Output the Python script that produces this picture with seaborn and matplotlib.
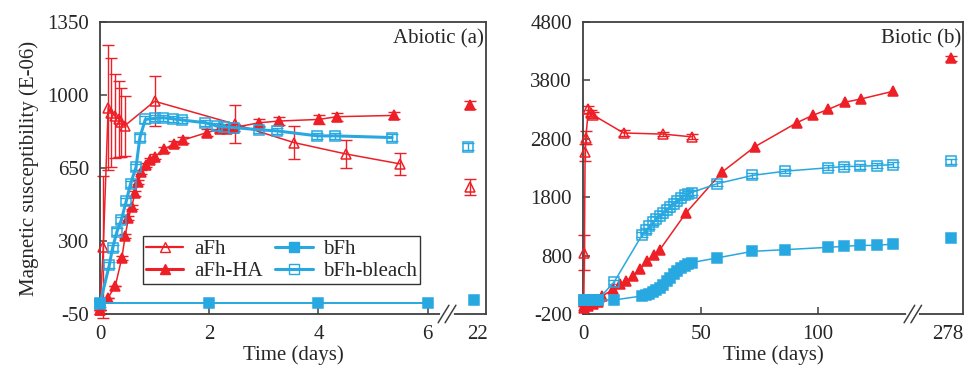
import numpy as np
import seaborn as sns
import matplotlib.pyplot as plt
from matplotlib.lines import Line2D

plt.switch_backend("Agg")

# ---- abiotic (a), time in days ----
a_afh_t = [0, 0.06, 0.15, 0.21, 0.28, 0.34, 0.39, 0.45, 1.0, 2.48, 3.55, 4.51, 5.49]
a_afh_v = [-30, 270, 940, 915, 900, 885, 870, 852, 970, 860, 772, 717, 670]
a_afh_e = [0, 340, 300, 260, 200, 180, 165, 145, 120, 92, 78, 65, 52]

a_ha_t = [0, 0.15, 0.28, 0.40, 0.46, 0.52, 0.58, 0.64, 0.70, 0.76, 0.84, 0.92, 1.01,
          1.18, 1.35, 1.52, 1.96, 2.19, 2.32, 2.45, 2.92, 3.27, 4.01, 4.34, 5.38]
a_ha_v = [-30, 29, 84, 219, 322, 409, 464, 528, 583, 630, 665, 690, 705,
          741, 765, 784, 820, 836, 839, 844, 867, 875, 883, 896, 902]
a_ha_e = [0, 0, 0, 10, 10, 10, 10, 10, 10, 10, 10, 10, 10,
          12, 15, 15, 15, 15, 15, 15, 18, 18, 20, 20, 18]

a_bfh_t = [0, 2, 4, 6]
a_bfh_v = [5, 5, 5, 5]

a_bl_t = [0, 0.17, 0.23, 0.31, 0.39, 0.48, 0.56, 0.66, 0.73, 0.83, 1.0, 1.16, 1.33,
          1.50, 1.93, 2.14, 2.28, 2.45, 2.92, 3.24, 3.98, 4.31, 5.35]
a_bl_v = [0, 184, 266, 345, 401, 491, 575, 654, 796, 883, 888, 891, 886,
          880, 867, 852, 847, 844, 833, 828, 804, 804, 796]

# last sampling (day 22)
a_late_t = 22
a_late_afh, a_late_afh_e = 559, 37
a_late_ha, a_late_ha_e = 951, 20
a_late_bfh = 15
a_late_bl, a_late_bl_e = 753, 18

# ---- biotic (b) ----
b_afh_t = [0, 0.3, 0.6, 0.9, 2, 3, 4, 17, 34, 46]
b_afh_v = [-60, 846, 2568, 2822, 3303, 3246, 3207, 2900, 2880, 2834]
b_afh_e = [0, 300, 150, 110, 60, 50, 50, 50, 40, 40]

b_ha_t = [0, 2, 4, 6, 8, 12.5, 15.4, 18.2, 21, 24, 27, 30, 32.5, 43.5, 59, 73,
          91, 97.6, 104.3, 111.5, 118.4, 132]
b_ha_v = [-100, -60, -30, 0, 110, 220, 308, 364, 449, 563, 700, 817, 902, 1524, 2229, 2664,
          3077, 3201, 3303, 3427, 3483, 3614]

b_t = [0, 2, 4, 6, 13, 25, 26.5, 28, 29.5, 31, 32.5, 34, 35.5, 37, 38.5, 40, 41.5,
       43, 44.5, 46, 57, 72, 86, 104, 111, 118, 125, 132]
b_bfh_v = [40, 40, 40, 40, 40, 110, 130, 150, 175, 210, 250, 300, 360, 420, 480, 540, 590,
           630, 660, 680, 761, 873, 902, 941, 958, 975, 975, 998]
b_bl_v = [40, 40, 40, 40, 350, 1160, 1230, 1300, 1370, 1430, 1480, 1530, 1580, 1640, 1690,
          1740, 1790, 1830, 1860, 1880, 2032, 2173, 2246, 2303, 2325, 2330, 2342, 2359]

b_late_t = 278
b_late_ha, b_late_ha_e = 4178, 40
b_late_bfh = 1100
b_late_bl, b_late_bl_e = 2415, 45

RED = "#ee1f26"
BLUE = "#28a8e0"
SPINE = "#404040"


def ax_pos_a(d):
    # broken axis: day 22 sits just after the break
    d = np.asarray(d, dtype=float)
    return np.where(d > 6.5, 6.78, d)


def ax_pos_b(d):
    d = np.asarray(d, dtype=float)
    return np.where(d > 140, 156.5, d)


sns.set_theme(style="ticks")
plt.rcParams["font.family"] = ["Liberation Serif", "DejaVu Serif"]
plt.rcParams["font.size"] = 15
plt.rcParams["axes.unicode_minus"] = False

fig = plt.figure(figsize=(9.7, 3.77), dpi=100)
ax1 = fig.add_axes([100 / 970, 63 / 377, 386 / 970, 292 / 377])
ax2 = fig.add_axes([583 / 970, 63 / 377, 380 / 970, 292 / 377])

ms = 7.5


def series(ax, x, y, color, marker, filled, lw, label=None, err=None):
    if err is not None:
        ax.errorbar(x, y, yerr=err, fmt="none", ecolor=color, elinewidth=1.0,
                    capsize=4, capthick=1.0, clip_on=False, zorder=2)
    sns.lineplot(x=x, y=y, ax=ax, color=color, marker=marker, markersize=ms,
                 markerfacecolor=color if filled else "none", markeredgecolor=color,
                 markeredgewidth=1.1, linewidth=lw, estimator=None, sort=False,
                 label=label, clip_on=False, zorder=3, legend=False)


def single(ax, x, y, color, marker, filled, err=None):
    if err is not None:
        ax.errorbar([x], [y], yerr=[err], fmt="none", ecolor=color, elinewidth=1.0,
                    capsize=4, capthick=1.0, clip_on=False, zorder=2)
    ax.plot([x], [y], linestyle="none", marker=marker, markersize=ms,
            markerfacecolor=color if filled else "none", markeredgecolor=color,
            markeredgewidth=1.1, clip_on=False, zorder=3)


# panel a
series(ax1, ax_pos_a(a_afh_t), a_afh_v, RED, "^", False, 1.1, "aFh", a_afh_e)
series(ax1, ax_pos_a(a_ha_t), a_ha_v, RED, "^", True, 1.1, "aFh-HA", a_ha_e)
series(ax1, ax_pos_a(a_bfh_t), a_bfh_v, BLUE, "s", True, 1.4, "bFh")
series(ax1, ax_pos_a(a_bl_t), a_bl_v, BLUE, "s", False, 2.2, "bFh-bleach",
       [15] * len(a_bl_t))
lt = float(ax_pos_a([a_late_t])[0])
single(ax1, lt, a_late_afh, RED, "^", False, a_late_afh_e)
single(ax1, lt, a_late_ha, RED, "^", True, a_late_ha_e)
single(ax1, lt + 0.07, a_late_bfh, BLUE, "s", True)
single(ax1, lt - 0.04, a_late_bl, BLUE, "s", False, a_late_bl_e)

# panel b
series(ax2, ax_pos_b(b_afh_t), b_afh_v, RED, "^", False, 1.1, "aFh", b_afh_e)
series(ax2, ax_pos_b(b_ha_t), b_ha_v, RED, "^", True, 1.1, "aFh-HA")
series(ax2, ax_pos_b(b_t), b_bfh_v, BLUE, "s", True, 1.1, "bFh")
series(ax2, ax_pos_b(b_t), b_bl_v, BLUE, "s", False, 1.1, "bFh-bleach",
       [40] * len(b_t))
lt = float(ax_pos_b([b_late_t])[0])
single(ax2, lt, b_late_ha, RED, "^", True, b_late_ha_e)
single(ax2, lt, b_late_bfh, BLUE, "s", True)
single(ax2, lt, b_late_bl, BLUE, "s", False, b_late_bl_e)

ax1.set_xlim(0, 7.07)
ax1.set_ylim(-50, 1350)
ax1.set_yticks([-50, 300, 650, 1000, 1350])
ax1.set_xticks([0, 2, 4, 6, 6.92])
ax1.set_xticklabels(["0", "2", "4", "6", "22"])
ax1.xaxis.get_major_ticks()[-1].tick1line.set_visible(False)
ax1.set_ylabel("Magnetic susceptibility (E-06)", fontsize=15, labelpad=6)

ax2.set_xlim(-0.3, 161.8)
ax2.set_ylim(-200, 4800)
ax2.set_yticks([-200, 800, 1800, 2800, 3800, 4800])
ax2.set_xticks([0, 50, 100, 155.4])
ax2.set_xticklabels(["0", "50", "100", "278"])
ax2.xaxis.get_major_ticks()[-1].tick1line.set_visible(False)

for ax, brk, name in [(ax1, 0.899, "Abiotic (a)"), (ax2, 0.868, "Biotic (b)")]:
    ax.set_xlabel("Time (days)", fontsize=15, labelpad=1)
    ax.tick_params(direction="in", length=5, width=1.1, color=SPINE, pad=8,
                   labelsize=15, top=False, right=False)
    for s in ax.spines.values():
        s.set_color(SPINE)
        s.set_linewidth(1.3)
    ax.text(0.995, 0.975, name, transform=ax.transAxes, ha="right", va="top",
            fontsize=15)
    # axis break marks
    ax.plot([brk - 0.012, brk + 0.012], [0, 0], transform=ax.transAxes,
            color="white", lw=3, clip_on=False, zorder=5)
    for dx in (-0.009, 0.009):
        ax.plot([brk + dx - 0.014, brk + dx + 0.014], [-0.03, 0.03],
                transform=ax.transAxes, color=SPINE, lw=1.1, clip_on=False, zorder=6)

handles = [
    Line2D([], [], color=RED, lw=1.6, marker="^", ms=ms, mfc="none", mec=RED),
    Line2D([], [], color=RED, lw=2.2, marker="^", ms=ms, mfc=RED, mec=RED),
    Line2D([], [], color=BLUE, lw=2.2, marker="s", ms=ms, mfc=BLUE, mec=BLUE),
    Line2D([], [], color=BLUE, lw=2.2, marker="s", ms=ms, mfc="none", mec=BLUE),
]
labels = ["aFh", "aFh-HA", "bFh", "bFh-bleach"]
leg = ax1.legend(handles, labels, ncol=2,
                 loc="lower left", bbox_to_anchor=(0.111, 0.103), fontsize=15,
                 frameon=True, fancybox=False, handlelength=1.8, columnspacing=0.6,
                 handletextpad=0.5, labelspacing=0.1, borderpad=0.15,
                 borderaxespad=0)
leg.get_frame().set_edgecolor("black")
leg.get_frame().set_linewidth(1.0)

fig.savefig("out.png", dpi=100)
